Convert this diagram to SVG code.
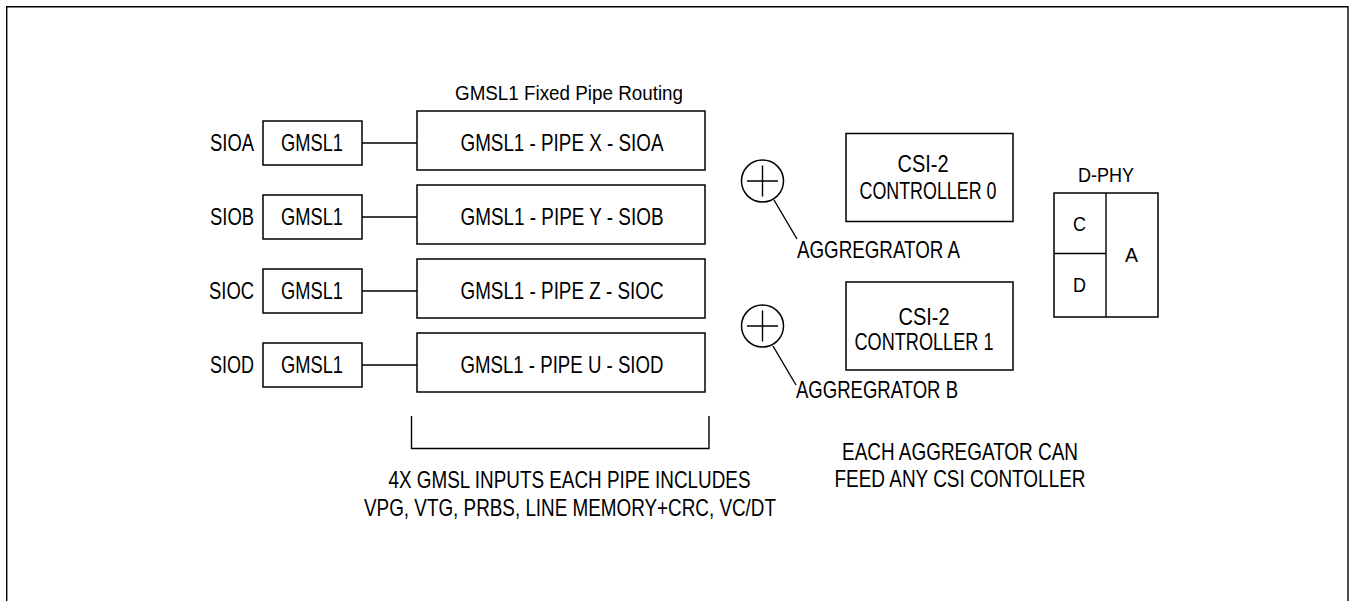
<svg xmlns="http://www.w3.org/2000/svg" width="1351" height="601" viewBox="0 0 1351 601">
<style>
  .box{fill:#fff;stroke:#000;stroke-width:1.5}
  .ln{fill:none;stroke:#000;stroke-width:1.4}
  .t{font-family:"Liberation Sans",Arial,sans-serif;font-size:24px;fill:#000}
  .s{font-family:"Liberation Sans",Arial,sans-serif;font-size:20.5px;fill:#000}
  .m{text-anchor:middle}
  .e{text-anchor:end}
</style>
<rect x="0" y="0" width="1351" height="601" fill="#fff"/>
<path class="ln" d="M6.7,620 V6.7 H1348 V620" stroke-width="1.5"/>

<text class="s m" x="569" y="100" textLength="228" lengthAdjust="spacingAndGlyphs">GMSL1 Fixed Pipe Routing</text>

<g id="connectors">
  <line class="ln" x1="362" y1="143" x2="417" y2="143"/>
  <line class="ln" x1="362" y1="217" x2="417" y2="217"/>
  <line class="ln" x1="362" y1="291" x2="417" y2="291"/>
  <line class="ln" x1="362" y1="365" x2="417" y2="365"/>
  <line class="ln" x1="774" y1="200" x2="797" y2="239"/>
  <line class="ln" x1="773" y1="346" x2="796" y2="385"/>
</g>

<g id="sioa"><text class="t e" x="254" y="151" textLength="44" lengthAdjust="spacingAndGlyphs">SIOA</text></g>
<g id="siob"><text class="t e" x="254" y="225" textLength="44" lengthAdjust="spacingAndGlyphs">SIOB</text></g>
<g id="sioc"><text class="t e" x="254" y="299" textLength="45" lengthAdjust="spacingAndGlyphs">SIOC</text></g>
<g id="siod"><text class="t e" x="254" y="373" textLength="44" lengthAdjust="spacingAndGlyphs">SIOD</text></g>

<g id="gmsl1-a"><rect class="box" x="263" y="121" width="99" height="44"/><text class="t m" x="312" y="151" textLength="62" lengthAdjust="spacingAndGlyphs">GMSL1</text></g>
<g id="gmsl1-b"><rect class="box" x="263" y="195" width="99" height="44"/><text class="t m" x="312" y="225" textLength="62" lengthAdjust="spacingAndGlyphs">GMSL1</text></g>
<g id="gmsl1-c"><rect class="box" x="263" y="269" width="99" height="44"/><text class="t m" x="312" y="299" textLength="62" lengthAdjust="spacingAndGlyphs">GMSL1</text></g>
<g id="gmsl1-d"><rect class="box" x="263" y="343" width="99" height="44"/><text class="t m" x="312" y="373" textLength="62" lengthAdjust="spacingAndGlyphs">GMSL1</text></g>

<g id="pipe-x"><rect class="box" x="417" y="111" width="288" height="59"/><text class="t m" x="562" y="151" textLength="203" lengthAdjust="spacingAndGlyphs">GMSL1 - PIPE X - SIOA</text></g>
<g id="pipe-y"><rect class="box" x="417" y="185" width="288" height="59"/><text class="t m" x="562" y="225" textLength="203" lengthAdjust="spacingAndGlyphs">GMSL1 - PIPE Y - SIOB</text></g>
<g id="pipe-z"><rect class="box" x="417" y="259" width="288" height="59"/><text class="t m" x="562" y="299" textLength="203" lengthAdjust="spacingAndGlyphs">GMSL1 - PIPE Z - SIOC</text></g>
<g id="pipe-u"><rect class="box" x="417" y="333" width="288" height="59"/><text class="t m" x="562" y="373" textLength="203" lengthAdjust="spacingAndGlyphs">GMSL1 - PIPE U - SIOD</text></g>

<g id="bracket"><path class="ln" d="M411.5,416 V448.5 H709 V416"/></g>
<g id="pipes-note">
  <text class="t m" x="569.5" y="488" textLength="362" lengthAdjust="spacingAndGlyphs">4X GMSL INPUTS EACH PIPE INCLUDES</text>
  <text class="t m" x="570" y="516" textLength="412" lengthAdjust="spacingAndGlyphs">VPG, VTG, PRBS, LINE MEMORY+CRC, VC/DT</text>
</g>

<g id="aggregator-a">
  <circle class="box" cx="762.5" cy="181" r="21"/>
  <path class="ln" d="M747,181 H778 M762.5,165.5 V196.5"/>
  <text class="t" x="797" y="258" textLength="163" lengthAdjust="spacingAndGlyphs">AGGREGRATOR A</text>
</g>
<g id="aggregator-b">
  <circle class="box" cx="762.5" cy="326" r="21"/>
  <path class="ln" d="M747,326 H778 M762.5,310.5 V341.5"/>
  <text class="t" x="796" y="398" textLength="162" lengthAdjust="spacingAndGlyphs">AGGREGRATOR B</text>
</g>

<g id="csi2-controller-0">
  <rect class="box" x="846" y="133.5" width="167" height="88"/>
  <text class="t m" x="923" y="172" textLength="51" lengthAdjust="spacingAndGlyphs">CSI-2</text>
  <text class="t m" x="928" y="199" textLength="137" lengthAdjust="spacingAndGlyphs">CONTROLLER 0</text>
</g>
<g id="csi2-controller-1">
  <rect class="box" x="846" y="282" width="167" height="88"/>
  <text class="t m" x="924" y="325" textLength="51" lengthAdjust="spacingAndGlyphs">CSI-2</text>
  <text class="t m" x="924" y="350" textLength="139" lengthAdjust="spacingAndGlyphs">CONTROLLER 1</text>
</g>

<g id="d-phy">
  <text class="s m" x="1106" y="181.5" textLength="56" lengthAdjust="spacingAndGlyphs">D-PHY</text>
  <rect class="box" x="1054" y="193" width="104" height="124"/>
  <line class="ln" x1="1106" y1="193" x2="1106" y2="317" stroke-width="1.5"/>
  <line class="ln" x1="1054" y1="253.5" x2="1106" y2="253.5" stroke-width="1.5"/>
  <text class="s m" x="1079.5" y="230.5" textLength="13" lengthAdjust="spacingAndGlyphs">C</text>
  <text class="s m" x="1079.5" y="291.5" textLength="13" lengthAdjust="spacingAndGlyphs">D</text>
  <text class="s m" x="1131.5" y="261.5" textLength="13" lengthAdjust="spacingAndGlyphs">A</text>
</g>

<g id="aggregator-note">
  <text class="t m" x="960" y="460" textLength="236" lengthAdjust="spacingAndGlyphs">EACH AGGREGATOR CAN</text>
  <text class="t m" x="960" y="487" textLength="251" lengthAdjust="spacingAndGlyphs">FEED ANY CSI CONTOLLER</text>
</g>
</svg>
